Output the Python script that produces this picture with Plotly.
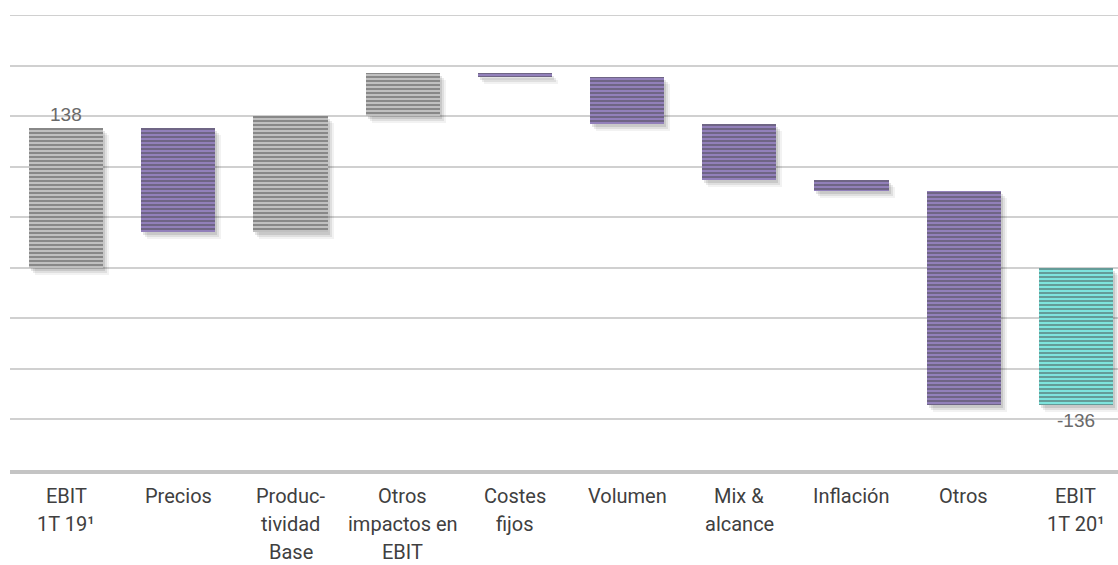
import plotly.graph_objects as go

# ---- data ----
categories = ["EBIT<br>1T 19¹", "Precios", "Produc-<br>tividad<br>Base",
              "Otros<br>impactos en<br>EBIT", "Costes<br>fijos", "Volumen",
              "Mix &<br>alcance", "Inflación", "Otros", "EBIT<br>1T 20¹"]
start_value = 138
deltas = [-103, 115, 43, -4, -47, -55, -11, -212]   # middle steps
value_labels = ["138", "-136"]

# ---- styles ----
GREY = ("#c0c0c0", "#aaaaaa")
PURPLE = ("#9280ba", "#735e9f")
TEAL = ("#7ee4dd", "#52d5cb")

xs = list(range(len(categories)))
bases, heights, styles = [], [], []
bases.append(0); heights.append(start_value); styles.append(GREY)
running = start_value
for d in deltas:
    bases.append(running); heights.append(d)
    styles.append(GREY if d > 0 else PURPLE)
    running += d
bases.append(0); heights.append(running); styles.append(TEAL)

W = 0.66
PX = 112.2  # pixels per category

fig = go.Figure()

# soft drop shadows (layered)
for dx, dy, a in [(2, 3, 0.10), (4, 5, 0.08), (6, 7, 0.05)]:
    fig.add_trace(go.Bar(
        x=xs, y=heights, base=[b - dy for b in bases],
        width=W, offset=-W / 2 + dx / PX,
        marker=dict(color=f"rgba(0,0,0,{a})", line=dict(width=0)),
        hoverinfo="skip", showlegend=False))

# solid fill
fig.add_trace(go.Bar(
    x=xs, y=heights, base=bases, width=W,
    marker=dict(color=[s[0] for s in styles], line=dict(width=0)),
    hoverinfo="skip", showlegend=False))

# horizontal stripes on top
fig.add_trace(go.Bar(
    x=xs, y=heights, base=bases, width=W,
    marker=dict(
        color=[s[0] for s in styles],
        line=dict(width=0),
        pattern=dict(shape="-", size=4, solidity=0.45,
                     fgcolor=[s[1] for s in styles],
                     fillmode="overlay")),
    showlegend=False))

annotations = []
annotations.append(dict(x=0, y=start_value, text=value_labels[0], showarrow=False,
                        yanchor="middle", yshift=14,
                        font=dict(family="Liberation Sans, Arial", size=19, color="#6a6a6a")))
annotations.append(dict(x=len(categories) - 1, y=running, text=value_labels[1], showarrow=False,
                        yanchor="middle", yshift=-15,
                        font=dict(family="Liberation Sans, Arial", size=19, color="#6a6a6a")))
for i, c in enumerate(categories):
    for k, line in enumerate(c.split("<br>")):
        annotations.append(dict(x=i, y=-200, text=line, showarrow=False,
                                yanchor="middle", yshift=-26 - 28 * k, borderpad=0,
                                font=dict(family="Roboto", size=20, color="#404040")))

fig.update_layout(
    width=1118, height=565,
    margin=dict(l=10, r=0, t=15, b=95),
    paper_bgcolor="white", plot_bgcolor="white",
    barmode="overlay", bargap=0,
    annotations=annotations,
    shapes=[dict(type="line", xref="paper", yref="y", x0=0, x1=1, y0=250, y1=250,
                 line=dict(color="#d0d0d0", width=2), layer="below")],
    xaxis=dict(range=[-0.5, 9.375], showgrid=False, zeroline=False,
               showticklabels=False, ticks="",
               showline=True, linecolor="#c4c4c4", linewidth=4),
    yaxis=dict(range=[-200, 250], dtick=50, showgrid=True,
               gridcolor="#d0d0d0", gridwidth=2, zeroline=False,
               showticklabels=False, ticks=""),
)

fig.write_html("out.html")
